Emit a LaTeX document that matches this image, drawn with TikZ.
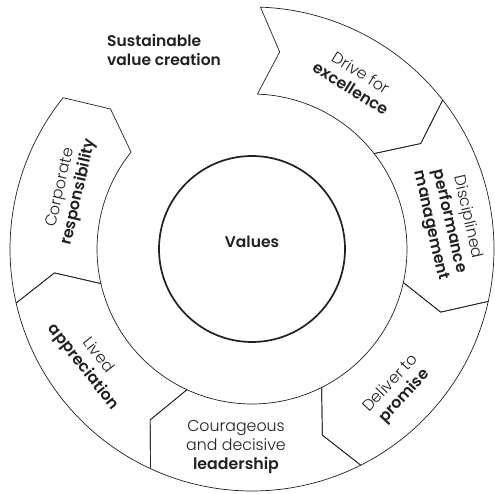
\documentclass[tikz,border=0pt]{standalone}
\usepackage{fontspec}
\setmainfont{Poppins}[UprightFont=* Light, BoldFont=* SemiBold]
\definecolor{ink}{HTML}{231F20}
\begin{document}
\begin{tikzpicture}[x=1pt,y=1pt,
  seg/.style={draw=ink, line width=0.7pt},
  core/.style={draw=ink, line width=1.7pt},
  lbl/.style={align=center, font=\fontsize{15.8}{18.8}\selectfont, text=ink, inner sep=0pt},
  title/.style={align=left, font=\fontsize{15.5}{19.5}\selectfont\bfseries, text=ink, inner sep=0pt}]
\useasboundingbox (0,0) rectangle (495,493);
\coordinate (C) at (252,244);
\begin{scope}[shift={(C)}]
  \foreach \a/\b in {88/38, 38/-12.5, -12.5/-63.3, -63.3/-114.8, -114.8/-167.1, -167.1/-218.7} {
    \draw[seg] (\a:242) arc[start angle=\a, end angle=\b, radius=242]
      -- ({\b-6}:199) -- (\b:155) arc[start angle=\b, end angle=\a, radius=155]
      -- ({\a-6}:199) -- cycle;
  }
  \draw[core] (0,0) circle[radius=93];
  \node[lbl, font=\fontsize{15.5}{18}\selectfont\bfseries] (values) at (0,7) {Values};
  \node[lbl, rotate=-32] (drive) at (58.4:198) {Drive for\\\textbf{excellence}};
  \node[lbl, rotate=-77] (perf) at (8:199) {Disciplined\\\textbf{performance}\\\textbf{management}};
  \node[lbl, rotate=47] (deliver) at (-44:203) {Deliver to\\\textbf{promise}};
  \node[lbl] (courage) at (-16,-198) {Courageous\\and decisive\\\textbf{leadership}};
  \node[lbl, rotate=-52] (lived) at (214.9:197) {Lived\\\textbf{appreciation}};
  \node[lbl, rotate=77] (corp) at (162:191) {Corporate\\\textbf{responsibility}};
\end{scope}
\node[title, anchor=north west] (svc) at (107,459) {Sustainable\\value creation};
\end{tikzpicture}
\end{document}
